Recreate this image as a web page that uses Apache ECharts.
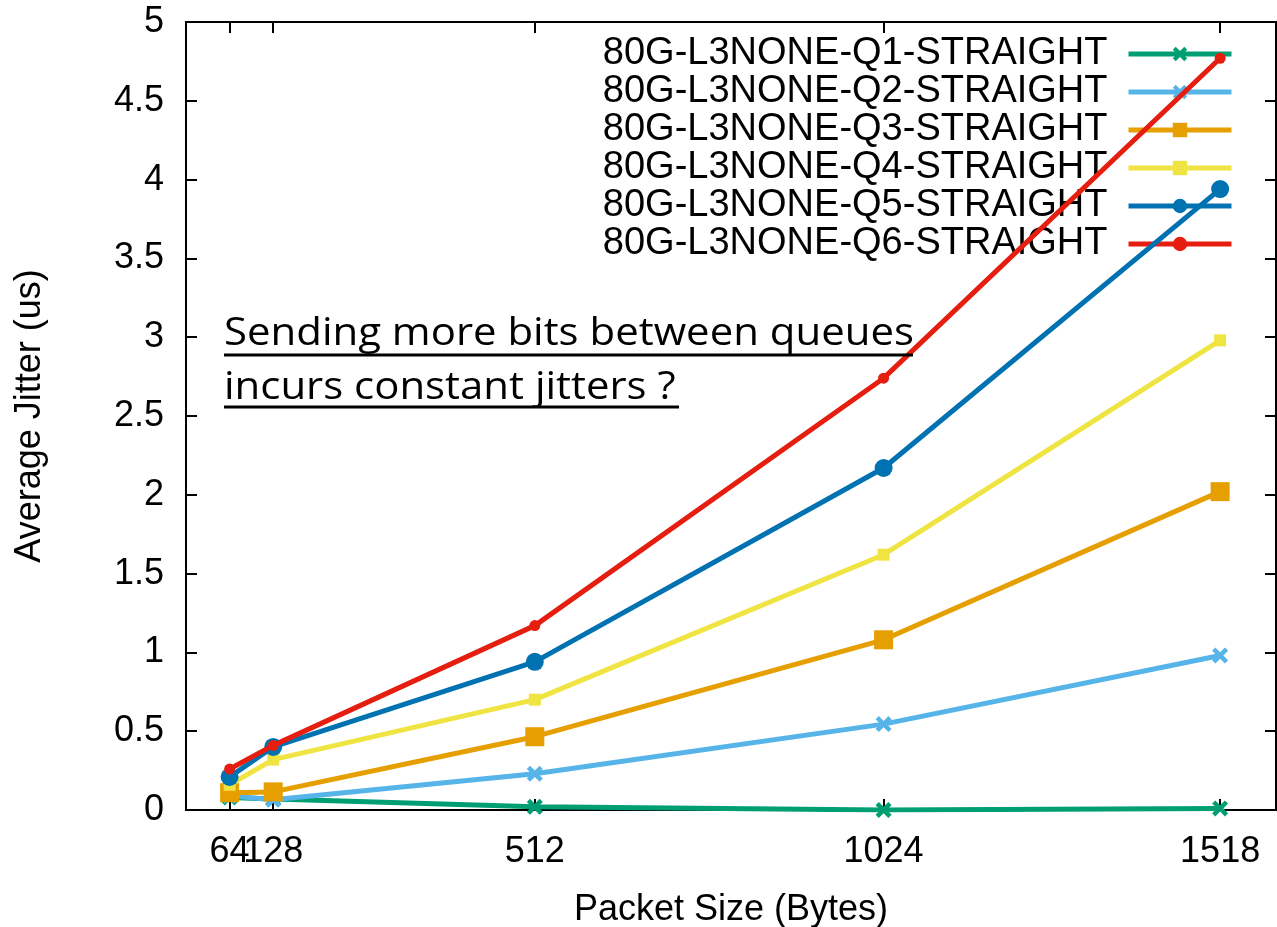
<!DOCTYPE html>
<html>
<head>
<meta charset="utf-8">
<script src="https://cdn.jsdelivr.net/npm/echarts@6/dist/echarts.min.js"></script>
<style>
  html, body { margin: 0; padding: 0; background: #fff; }
  #chart { width: 1277px; height: 927px; }
</style>
</head>
<body>
<div id="chart"></div>
<script>
// Packet sizes (bytes) on the x axis
const packetSizes = [64, 128, 512, 1024, 1518];
const mainLabelSizes = [64, 512, 1024, 1518];
const crowdedLabelSizes = [128];
const yTicks = [0, 0.5, 1, 1.5, 2, 2.5, 3, 3.5, 4, 4.5, 5];

// Average jitter (us) per queue
const q1 = [0.08, 0.07, 0.02, 0.00, 0.01];
const q2 = [0.09, 0.065, 0.23, 0.545, 0.98];
const q3 = [0.11, 0.115, 0.465, 1.08, 2.02];
const q4 = [0.16, 0.32, 0.70, 1.62, 2.98];
const q5 = [0.21, 0.40, 0.94, 2.17, 3.94];
const q6 = [0.26, 0.41, 1.17, 2.74, 4.77];

const seriesNames = [
  '80G-L3NONE-Q1-STRAIGHT',
  '80G-L3NONE-Q2-STRAIGHT',
  '80G-L3NONE-Q3-STRAIGHT',
  '80G-L3NONE-Q4-STRAIGHT',
  '80G-L3NONE-Q5-STRAIGHT',
  '80G-L3NONE-Q6-STRAIGHT'
];
const seriesValues = [q1, q2, q3, q4, q5, q6];
const colors = ['#009e73', '#56b4e9', '#e69f00', '#f0e442', '#0072b2', '#e51e10'];

const crossPath = 'path://M2,0 L5,3 L8,0 L10,2 L7,5 L10,8 L8,10 L5,7 L2,10 L0,8 L3,5 L0,2 Z';
const symbols = [
  { symbol: crossPath, size: 16 },
  { symbol: crossPath, size: 16 },
  { symbol: 'rect', size: 19 },
  { symbol: 'rect', size: 12 },
  { symbol: 'circle', size: 18 },
  { symbol: 'circle', size: 11 }
];

const FONT = '"Liberation Sans", Arial, Helvetica, sans-serif';
const NOTE_FONT = '"Open Sans", Lato, sans-serif';
const chart = echarts.init(document.getElementById('chart'));

const series = seriesNames.map((name, i) => ({
  name: name,
  type: 'line',
  xAxisIndex: 0,
  yAxisIndex: 0,
  data: packetSizes.map((x, j) => [x, seriesValues[i][j]]),
  symbol: symbols[i].symbol,
  symbolSize: symbols[i].size,
  showAllSymbol: true,
  lineStyle: { color: colors[i], width: 5 },
  itemStyle: { color: colors[i], borderWidth: 0 },
  z: 2 + i,
  animation: false
}));

function axisLine(show) {
  return { show: show !== false, onZero: false, lineStyle: { color: '#000', width: 2 } };
}
function ticks(extra) {
  return Object.assign({ show: true, inside: true, length: 11, lineStyle: { color: '#000', width: 2 } }, extra || {});
}
const noTicks = { show: false };
const tickFont = { fontFamily: FONT, fontSize: 36, color: '#000' };

// x axes: labelled bottom axis, a second label row for the crowded 128 tick,
// and unlabelled axes carrying the inward ticks on the bottom and top edges
const xBase = { type: 'value', min: 0, max: 1600, splitLine: { show: false } };
const yBase = { type: 'value', min: 0, max: 5, interval: 0.5, splitLine: { show: false } };

chart.setOption({
  backgroundColor: '#ffffff',
  animation: false,
  grid: {
    left: 186, right: 1, top: 22, bottom: 117, containLabel: false,
    outerBoundsMode: 'none',
    show: true, borderColor: '#000', borderWidth: 2, backgroundColor: 'transparent'
  },
  legend: {
    data: seriesNames,
    orient: 'vertical',
    align: 'right',
    right: 38,
    top: 30,
    itemWidth: 103,
    itemHeight: 18,
    itemGap: 0,
    selectedMode: false,
    lineStyle: { width: 5 },
    textStyle: { fontFamily: FONT, fontSize: 38, color: '#000', lineHeight: 38, padding: [0, 16, 0, 0] }
  },
  xAxis: [
    Object.assign({}, xBase, {
      position: 'bottom',
      name: 'Packet Size (Bytes)', nameLocation: 'middle', nameGap: 82,
      nameTextStyle: tickFont,
      axisLine: axisLine(),
      axisTick: noTicks,
      axisLabel: Object.assign({ customValues: mainLabelSizes, margin: 24, formatter: v => String(v) }, tickFont)
    }),
    Object.assign({}, xBase, {
      position: 'bottom',
      axisLine: axisLine(false),
      axisTick: noTicks,
      axisLabel: Object.assign({ customValues: crowdedLabelSizes, margin: 24, formatter: v => String(v) }, tickFont)
    }),
    Object.assign({}, xBase, {
      position: 'bottom',
      axisLine: axisLine(false),
      axisTick: ticks({ customValues: packetSizes }),
      axisLabel: { show: false }
    }),
    Object.assign({}, xBase, {
      position: 'top',
      axisLine: axisLine(),
      axisTick: ticks({ customValues: packetSizes }),
      axisLabel: { show: false }
    })
  ],
  yAxis: [
    Object.assign({}, yBase, {
      position: 'left',
      name: 'Average Jitter (us)', nameLocation: 'middle', nameGap: 138,
      nameTextStyle: tickFont,
      axisLine: axisLine(),
      axisTick: noTicks,
      axisLabel: Object.assign({ margin: 22,
        formatter: v => String(yTicks.find(t => Math.abs(t - v) < 1e-9) ?? v) }, tickFont)
    }),
    Object.assign({}, yBase, {
      position: 'left',
      axisLine: axisLine(false),
      axisTick: ticks(),
      axisLabel: { show: false }
    }),
    Object.assign({}, yBase, {
      position: 'right',
      axisLine: axisLine(),
      axisTick: ticks(),
      axisLabel: { show: false }
    })
  ],
  graphic: [
    {
      type: 'text', left: 224, top: 314, z: 20, scaleX: 1.075,
      style: { text: 'Sending more bits between queues', fontFamily: NOTE_FONT, fontSize: 39, fill: '#000' }
    },
    {
      type: 'text', left: 224, top: 368, z: 20, scaleX: 1.075,
      style: { text: 'incurs constant jitters ?', fontFamily: NOTE_FONT, fontSize: 39, fill: '#000' }
    },
    { type: 'line', z: 20, shape: { x1: 224, y1: 355, x2: 913, y2: 355 }, style: { stroke: '#000', lineWidth: 3 } },
    { type: 'line', z: 20, shape: { x1: 224, y1: 407, x2: 679, y2: 407 }, style: { stroke: '#000', lineWidth: 3 } }
  ],
  series: series
});
</script>
</body>
</html>
